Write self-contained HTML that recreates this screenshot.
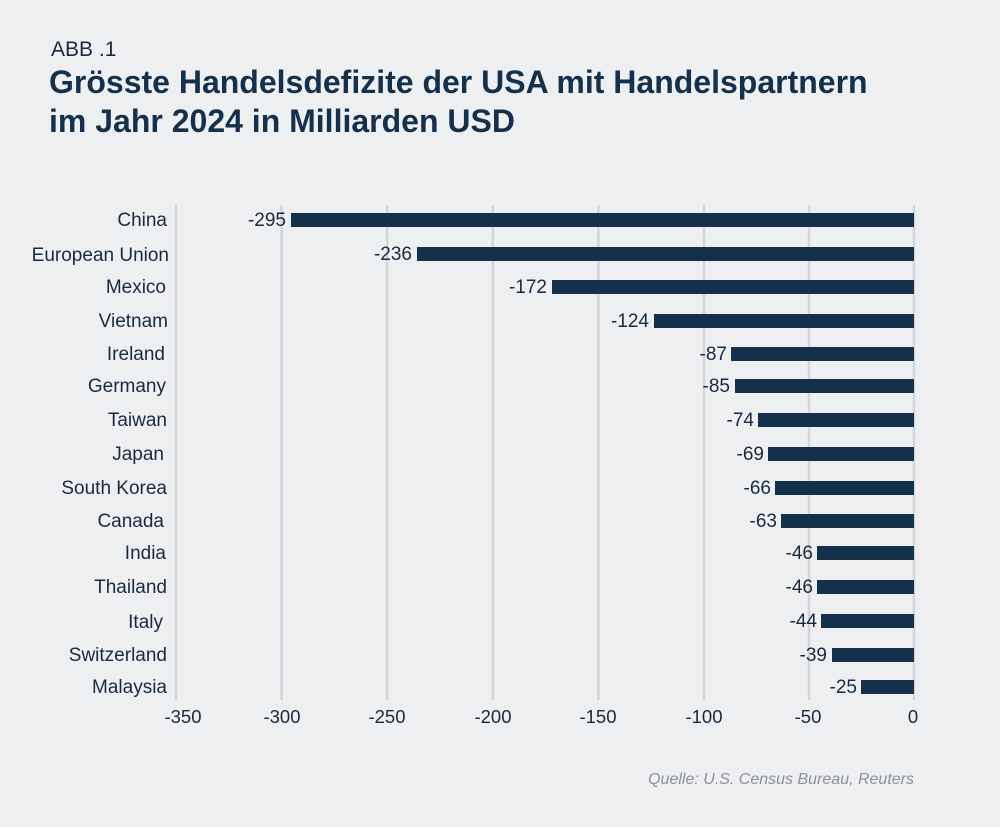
<!DOCTYPE html>
<html><head><meta charset="utf-8"><style>
html,body{margin:0;padding:0;background:#eeeff1;}
svg{display:block;font-family:"Liberation Sans",sans-serif;}
</style></head><body>
<svg width="1000" height="827" viewBox="0 0 1000 827">
<rect width="1000" height="827" fill="#eeeff1"/>
<text x="51" y="56" font-size="21" fill="#1a2a3e">ABB .1</text>
<text x="49" y="93" font-size="32" font-weight="bold" fill="#15304a">Grösste Handelsdefizite der USA mit Handelspartnern</text>
<text x="49" y="132" font-size="32" font-weight="bold" fill="#15304a">im Jahr 2024 in Milliarden USD</text>
<g stroke="#d3d5d9" stroke-width="2.5">
<line x1="176" y1="205" x2="176" y2="700"/><line x1="281.6" y1="205" x2="281.6" y2="700"/><line x1="387.2" y1="205" x2="387.2" y2="700"/><line x1="492.8" y1="205" x2="492.8" y2="700"/><line x1="598.4" y1="205" x2="598.4" y2="700"/><line x1="704" y1="205" x2="704" y2="700"/><line x1="809" y1="205" x2="809" y2="700"/><line x1="914" y1="205" x2="914" y2="700"/>
</g>
<g font-size="18.5" fill="#1a2a3e" text-anchor="middle">
<text x="183" y="723">-350</text><text x="282" y="723">-300</text><text x="387" y="723">-250</text><text x="493" y="723">-200</text><text x="598" y="723">-150</text><text x="704" y="723">-100</text><text x="808" y="723">-50</text><text x="913" y="723">0</text>
</g>
<g font-size="19" fill="#1a2a3e">
<g text-anchor="end">
<text x="167" y="226">China</text>
<text x="169" y="261">European Union</text>
<text x="166" y="293">Mexico</text>
<text x="168" y="327">Vietnam</text>
<text x="165" y="360">Ireland</text>
<text x="166" y="392">Germany</text>
<text x="167" y="426">Taiwan</text>
<text x="164" y="460">Japan</text>
<text x="167" y="494">South Korea</text>
<text x="164" y="527">Canada</text>
<text x="166" y="559">India</text>
<text x="167" y="593">Thailand</text>
<text x="163" y="628">Italy</text>
<text x="167" y="661">Switzerland</text>
<text x="167" y="693">Malaysia</text>
</g>
<g fill="#15304a">
<rect x="291" y="213" width="623" height="14"/>
<rect x="417" y="247" width="497" height="14"/>
<rect x="552" y="280" width="362" height="14"/>
<rect x="654" y="314" width="260" height="14"/>
<rect x="731" y="347" width="183" height="14"/>
<rect x="735" y="379" width="179" height="14"/>
<rect x="758" y="413" width="156" height="14"/>
<rect x="768" y="447" width="146" height="14"/>
<rect x="775" y="481" width="139" height="14"/>
<rect x="781" y="514" width="133" height="14"/>
<rect x="817" y="546" width="97" height="14"/>
<rect x="817" y="580" width="97" height="14"/>
<rect x="821" y="614" width="93" height="14"/>
<rect x="832" y="648" width="82" height="14"/>
<rect x="861" y="680" width="53" height="14"/>
</g>
<g text-anchor="end">
<text x="286" y="226">-295</text>
<text x="412" y="260">-236</text>
<text x="547" y="293">-172</text>
<text x="649" y="327">-124</text>
<text x="727" y="360">-87</text>
<text x="730" y="392">-85</text>
<text x="754" y="426">-74</text>
<text x="764" y="460">-69</text>
<text x="771" y="494">-66</text>
<text x="777" y="527">-63</text>
<text x="813" y="559">-46</text>
<text x="813" y="593">-46</text>
<text x="817" y="627">-44</text>
<text x="827" y="661">-39</text>
<text x="857" y="693">-25</text>
</g>
</g>
<text x="914" y="784" font-size="16" font-style="italic" fill="#8c9098" text-anchor="end">Quelle: U.S. Census Bureau, Reuters</text>
</svg>
</body></html>
